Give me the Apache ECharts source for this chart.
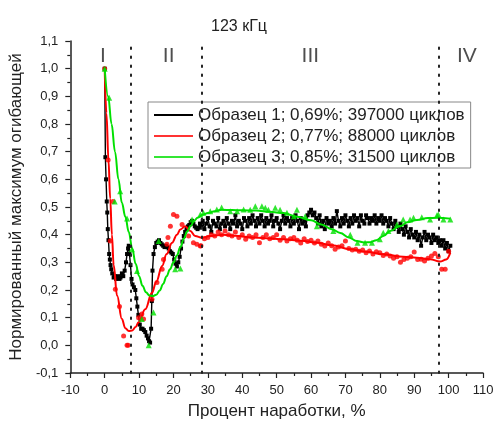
<!DOCTYPE html>
<html>
<head>
<meta charset="utf-8">
<script src="https://cdn.jsdelivr.net/npm/echarts@6/dist/echarts.min.js"></script>
<style>
  html, body { margin: 0; padding: 0; background: #fff; }
  #chart { width: 498px; height: 425px; }
</style>
</head>
<body>
<div id="chart"></div>
<script>
// Normalised envelope maximum vs. share of the fatigue life used, 123 kHz

const legendNames = [
  'Образец 1; 0,69%; 397000 циклов',
  'Образец 2; 0,77%; 88000 циклов',
  'Образец 3; 0,85%; 31500 циклов'
];

// Sample 1: measured points (joined by a line)
const sample1 = [
  [0,1.0],[0.2,0.68],[0.4,0.6],[0.6,0.52],[0.75,0.48],[0.9,0.42],[1.1,0.38],[1.3,0.33],[1.5,0.31],
  [1.7,0.29],[1.9,0.275],[2.2,0.26],[2.6,0.245],[3.0,0.25],[3.3,0.24],[3.6,0.245],[4.0,0.25],
  [4.3,0.24],[4.6,0.245],[5.0,0.26],[5.4,0.25],[5.8,0.27],[6.2,0.3],[6.5,0.33],[6.8,0.35],[7.0,0.36],
  [7.2,0.33],[7.5,0.29],[7.8,0.24],[8.1,0.22],[8.5,0.21],[8.9,0.2],[9.2,0.17],[9.5,0.14],[9.8,0.11],
  [10.2,0.075],[10.6,0.06],[11.0,0.06],[11.4,0.055],[11.8,0.048],[12.2,0.035],[12.6,0.025],
  [12.9,0.015],[13.2,0.01],[13.5,0.06],[13.7,0.16],[13.9,0.27],[14.2,0.33],[14.6,0.355],[15.0,0.37],
  [15.4,0.375],[15.8,0.38],[16.2,0.37],[16.6,0.365],[17.0,0.36],[17.4,0.355],[17.8,0.36],[18.2,0.355],
  [18.6,0.35],[19.0,0.34],[19.4,0.335],[19.8,0.33],[20.2,0.31],[20.6,0.295],[21.0,0.285],[21.4,0.3],
  [21.8,0.32],[22.2,0.35],[22.6,0.375],[23.0,0.395],[23.4,0.41],[23.8,0.42],[24.2,0.43],[24.6,0.435],
  [25.0,0.445],[25.4,0.45],[25.8,0.44],[26.2,0.43],[26.6,0.425],[27.0,0.42],[27.4,0.425],[27.7,0.44],
  [28.0,0.43],[28.5,0.45],[29.0,0.42],[29.5,0.44],[30.0,0.46],[30.5,0.43],[31.0,0.41],[31.5,0.45],
  [32.0,0.44],[32.5,0.43],[33.0,0.46],[33.5,0.42],[34.0,0.44],[34.5,0.45],[35.0,0.43],[35.5,0.46],
  [36.0,0.44],[36.5,0.42],[37.0,0.45],[37.5,0.44],[38.0,0.47],[38.5,0.43],[39.0,0.45],[39.5,0.44],
  [40.0,0.42],[40.5,0.46],[41.0,0.45],[41.5,0.43],[42.0,0.46],[42.5,0.44],[43.0,0.47],[43.5,0.45],
  [44.0,0.43],[44.5,0.46],[45.0,0.44],[45.5,0.47],[46.0,0.45],[46.5,0.43],[47.0,0.46],[47.5,0.44],
  [48.0,0.45],[48.5,0.47],[49.0,0.43],[49.5,0.45],[50.0,0.46],[50.5,0.44],[51.0,0.42],[51.5,0.45],
  [52.0,0.47],[52.5,0.44],[53.0,0.46],[53.5,0.45],[54.0,0.43],[54.5,0.46],[55.0,0.44],[55.5,0.47],
  [56.0,0.45],[56.5,0.42],[57.0,0.46],[57.5,0.44],[58.0,0.45],[58.5,0.43],[59.0,0.47],[59.5,0.48],
  [60.0,0.49],[60.5,0.47],[61.0,0.48],[61.5,0.46],[62.0,0.44],[62.5,0.47],[63.0,0.43],[63.5,0.45],
  [64.0,0.42],[64.5,0.46],[65.0,0.44],[65.5,0.45],[66.0,0.43],[66.5,0.46],[67.0,0.44],[67.5,0.485],
  [68.0,0.45],[68.5,0.43],[69.0,0.46],[69.5,0.44],[70.0,0.47],[70.5,0.45],[71.0,0.43],[71.5,0.46],
  [72.0,0.44],[72.5,0.47],[73.0,0.45],[73.5,0.46],[74.0,0.43],[74.5,0.47],[75.0,0.45],[75.5,0.44],
  [76.0,0.47],[76.5,0.46],[77.0,0.44],[77.5,0.46],[78.0,0.45],[78.5,0.47],[79.0,0.44],[79.5,0.46],
  [80.0,0.45],[80.5,0.47],[81.0,0.44],[81.5,0.46],[82.0,0.45],[82.5,0.43],[83.0,0.46],[83.5,0.44],
  [84.0,0.42],[84.5,0.45],[85.0,0.43],[85.5,0.41],[86.0,0.44],[86.5,0.42],[87.0,0.40],[87.5,0.43],
  [88.0,0.41],[88.5,0.39],[89.0,0.42],[89.5,0.40],[90.0,0.39],[90.5,0.41],[91.0,0.38],[91.5,0.40],
  [92.0,0.36],[92.5,0.39],[93.0,0.41],[93.5,0.38],[94.0,0.40],[94.5,0.39],[95.0,0.37],[95.5,0.40],
  [96.0,0.38],[96.5,0.39],[97.0,0.37],[97.5,0.38],[98.0,0.36],[98.5,0.38],[99.0,0.35],[99.5,0.37],
  [100.0,0.34],[100.5,0.36]
];

// Sample 2: measured points
const sample2 = [
  [0,1.0],[1.0,0.67],[1.6,0.377],[2.4,0.52],[3.1,0.203],[4.3,0.14],[5.5,0.034],[6.5,0.0],[6.8,0.0],
  [9.85,0.10],[10.8,0.113],[11.3,0.095],[13.75,0.167],[15.2,0.227],[16.7,0.275],[17.1,0.31],
  [18.1,0.365],[18.4,0.39],[19.1,0.43],[20.0,0.473],[21.0,0.467],[22.5,0.437],[24.4,0.395],
  [25.8,0.371],[26.8,0.365],[27.8,0.359],
  [28,0.36],[29,0.385],[30,0.39],[31,0.40],[32,0.395],[33,0.41],[34,0.40],[35,0.413],[36,0.40],
  [37,0.395],[38,0.41],[39,0.39],[40,0.40],[41,0.383],[42,0.395],[43,0.39],[44,0.40],[45,0.371],
  [46,0.39],[47,0.40],[48,0.385],[49,0.39],[50,0.40],[51,0.38],[52,0.39],[53,0.377],[54,0.385],
  [55,0.39],[56,0.38],[57,0.37],[58,0.385],[59,0.375],[60,0.38],[61,0.37],[62,0.377],[63,0.365],
  [64,0.359],[65,0.37],[66,0.36],[67,0.347],[68,0.355],[69,0.36],[70,0.377],[71,0.35],[72,0.345],
  [73,0.347],[74,0.34],[75,0.345],[76,0.335],[77,0.341],[78,0.33],[79,0.338],[80,0.335],[81,0.325],
  [82,0.33],[83,0.323],[84,0.315],[85,0.32],[86,0.30],[87,0.31],[88,0.315],[89,0.32],[90,0.337],
  [91,0.31],[92,0.311],[93,0.305],[94,0.315],[95,0.323],[96,0.332],[97,0.32],[98,0.275],[99,0.275],
  [100,0.34]
];

// Sample 2: fitted curve
const fit2 = [
  [0,1.0],[0.5,0.84],[1.1,0.67],[1.6,0.53],[2.1,0.40],[2.6,0.29],[3.6,0.18],[5,0.095],[6,0.062],
  [7,0.052],[8,0.054],[9,0.066],[9.85,0.083],[11.8,0.13],[13.75,0.19],[15,0.23],[16.7,0.287],
  [18,0.33],[19.6,0.371],[21,0.4],[22,0.419],[23.4,0.43],[24.9,0.413],[26.3,0.395],[28.3,0.389],
  [30.7,0.395],[34.5,0.40],[38,0.396],[42.3,0.39],[47,0.387],[52,0.383],[57,0.378],[61.7,0.371],
  [66,0.362],[71.4,0.347],[76,0.338],[81,0.329],[86.8,0.32],[90.8,0.317],[94.6,0.311],[97.5,0.303],
  [99.3,0.31],[100.5,0.335]
];

// Sample 3: measured points
const sample3 = [
  [0,1.0],[1.3,0.895],[2.9,0.52],[4.5,0.557],[6.5,0.458],[7.9,0.347],[9.4,0.269],[10.8,0.095],
  [12.8,0.0],[14.2,0.119],[15.7,0.377],[20.5,0.275],[22,0.278],[25.4,0.455],[27.8,0.473],
  [28.7,0.479],[30.7,0.485],[32.6,0.491],[34,0.498],[36.5,0.485],[38.5,0.485],[40.4,0.491],
  [42.3,0.49],[43.8,0.503],[45.7,0.503],[46.7,0.497],[47.6,0.49],[49.6,0.497],[51,0.49],[53,0.479],
  [55,0.467],[55.9,0.49],[58.3,0.467],[61.7,0.43],[66.5,0.413],[71.4,0.40],[73.5,0.371],
  [75.7,0.371],[77.7,0.371],[80,0.383],[81,0.407],[82.5,0.413],[85,0.437],[86.8,0.455],[88.8,0.455],
  [89.8,0.461],[92.2,0.463],[94.6,0.455],[96.6,0.47],[97,0.473],[98.5,0.455],[100.5,0.455]
];

// Sample 3: fitted curve
const fit3 = [
  [0,1.0],[1,0.9],[2,0.8],[3,0.7],[4,0.6],[5,0.515],[6,0.465],[7,0.41],[8,0.35],[9,0.295],[10,0.25],
  [11,0.215],[12,0.192],[13,0.18],[14,0.178],[15,0.183],[16,0.198],[17,0.222],[18,0.25],[19,0.275],
  [20,0.3],[21,0.325],[22,0.355],[23,0.385],[24,0.412],[25,0.432],[26,0.45],[27,0.461],[28.5,0.472],
  [30,0.478],[32,0.485],[34,0.49],[37,0.489],[40,0.488],[44,0.487],[48,0.483],[52,0.478],[56,0.465],
  [60,0.452],[63,0.437],[66,0.42],[68.5,0.406],[71,0.39],[73.3,0.377],[75.5,0.372],[77.2,0.373],
  [79,0.38],[81,0.395],[83,0.413],[85.9,0.431],[88,0.445],[90.8,0.453],[94,0.46],[96.6,0.461],
  [100.5,0.458]
];

// Stage boundaries (% of life) and stage captions
const stageBounds = [7.5, 28.2, 97.2];
const stageLabels = [[-0.5, 1.045, 'I'], [18.6, 1.045, 'II'], [59.8, 1.045, 'III'], [105.3, 1.045, 'IV']];

const FONT = '"Liberation Sans", Arial, sans-serif';
const comma = v => v.toFixed(1).replace('.', ',').replace('-0,0', '0,0');

const chart = echarts.init(document.getElementById('chart'), null, { renderer: 'canvas' });

chart.setOption({
  animation: false,
  backgroundColor: '#fff',
  textStyle: { fontFamily: FONT },
  title: {
    text: '123 кГц',
    left: 206, top: 14,
    textStyle: { fontFamily: FONT, fontSize: 16, fontWeight: 'normal', color: '#222' }
  },
  grid: { left: 70, right: 15, top: 41, bottom: 51 },
  legend: {
    data: legendNames,
    orient: 'vertical',
    left: 148, top: 102,
    padding: [4, 6, 2, 6],
    itemGap: 3,
    itemWidth: 39, itemHeight: 2,
    icon: 'rect',
    borderColor: '#888', borderWidth: 1,
    backgroundColor: '#fff',
    textStyle: { fontFamily: FONT, fontSize: 17, color: '#222', lineHeight: 18 }
  },
  xAxis: {
    type: 'value', min: -10, max: 110, interval: 10,
    name: 'Процент наработки, %',
    nameLocation: 'middle', nameGap: 30,
    nameTextStyle: { fontFamily: FONT, fontSize: 17, color: '#222' },
    axisLine: { onZero: false, lineStyle: { color: '#222', width: 1.5 } },
    axisTick: { length: 5, lineStyle: { color: '#222', width: 1.2 } },
    minorTick: { show: true, splitNumber: 2, length: 3, lineStyle: { color: '#222', width: 1.2 } },
    splitLine: { show: false },
    axisLabel: { fontFamily: FONT, fontSize: 13, color: '#222', margin: 11 }
  },
  yAxis: {
    type: 'value', min: -0.1, max: 1.1, interval: 0.1,
    name: 'Нормированный максимум огибающей',
    nameLocation: 'middle', nameGap: 41, nameRotate: 90,
    nameTextStyle: { fontFamily: FONT, fontSize: 17, color: '#222' },
    axisLine: { show: true, onZero: false, lineStyle: { color: '#222', width: 1.5 } },
    axisTick: { length: 5, lineStyle: { color: '#222', width: 1.2 } },
    minorTick: { show: true, splitNumber: 2, length: 3, lineStyle: { color: '#222', width: 1.2 } },
    splitLine: { show: false },
    axisLabel: { fontFamily: FONT, fontSize: 13, color: '#222', margin: 12, formatter: comma }
  },
  series: [
    {
      name: legendNames[0], type: 'line', data: sample1,
      symbol: 'rect', symbolSize: 4, showAllSymbol: true,
      itemStyle: { color: '#000' },
      lineStyle: { color: '#000', width: 1.4 },
      z: 2,
      markLine: {
        silent: true, symbol: 'none', animation: false,
        label: { show: false },
        lineStyle: { color: '#222', width: 2, type: [1.5, 7.5], cap: 'round' },
        data: stageBounds.map(v => ({ xAxis: v }))
      }
    },
    {
      name: legendNames[1], type: 'scatter', data: sample2,
      symbol: 'circle', symbolSize: 5,
      itemStyle: { color: '#ff0000' }, z: 3
    },
    {
      name: legendNames[1], type: 'line', data: fit2,
      smooth: 0.4, smoothMonotone: 'x', symbol: 'none',
      itemStyle: { color: '#ff0000' },
      lineStyle: { color: '#ff0000', width: 2 }, z: 3
    },
    {
      name: legendNames[2], type: 'scatter', data: sample3,
      symbol: 'triangle', symbolSize: 6,
      itemStyle: { color: '#00e000' }, z: 4
    },
    {
      name: legendNames[2], type: 'line', data: fit3,
      smooth: 0.4, smoothMonotone: 'x', symbol: 'none',
      itemStyle: { color: '#00e000' },
      lineStyle: { color: '#00e000', width: 2 }, z: 4
    },
    {
      name: 'stages', type: 'scatter', data: stageLabels,
      symbolSize: 0, silent: true, z: 5,
      label: {
        show: true, position: 'inside',
        formatter: p => p.data[2],
        fontFamily: FONT, fontSize: 21, color: '#222'
      }
    }
  ]
});
</script>
</body>
</html>
